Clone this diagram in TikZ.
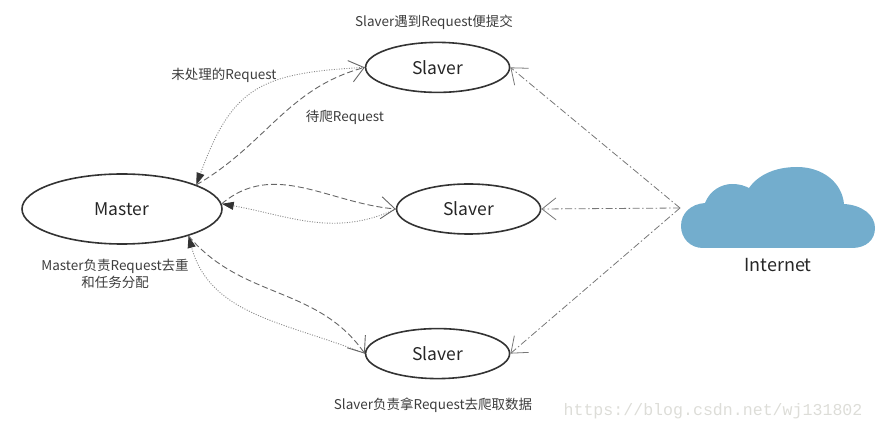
\documentclass[tikz,border=0pt]{standalone}
\usepackage{fontspec}
\setmainfont{Noto Sans CJK SC}
\newfontfamily\urlfont{Liberation Mono}
\usepackage{xcolor}
\usetikzlibrary{shapes,arrows.meta,positioning}
\definecolor{ringgray}{HTML}{333333}
\definecolor{dashgray}{HTML}{666666}
\definecolor{dotgray}{HTML}{8A8A8A}
\definecolor{netgray}{HTML}{777777}
\definecolor{textgray}{HTML}{3C3C3C}
\definecolor{cloudblue}{RGB}{115,173,205}
\definecolor{markgray}{HTML}{DDDDD8}
\tikzset{main node/.style={ellipse,draw=ringgray,line width=1.6pt,inner sep=0pt,
              font=\fontsize{17.5}{20}\selectfont,text=black!85},
         slave node/.style={main node,minimum width=144pt,minimum height=50pt},
         note/.style={font=\fontsize{13.5}{17}\selectfont,text=textgray,inner sep=0pt,align=center},
         fill tip/.style={-{Triangle[length=12pt,width=8pt,color=ringgray]}},
         open tip/.style={-{Straight Barb[length=14pt,width=22pt]}},
         dash line/.style={draw=dashgray,line width=0.9pt,dash pattern=on 6pt off 3pt,open tip},
         dot line/.style={draw=dotgray,line width=0.9pt,dash pattern=on 1pt off 1.5pt,fill tip},
         net line/.style={draw=netgray,line width=0.8pt,dash pattern=on 7pt off 2.5pt on 1.5pt off 2.5pt,open tip},
            }

\begin{document}
\begin{tikzpicture}[x=1pt,y=1pt]
    \useasboundingbox (0,0) rectangle (876,431);

    \node[main node,minimum width=200pt,minimum height=70pt] (m) at (122,222) {Master};
    \node[slave node] (s2) [right = 173pt of m] {Slaver};
    \node[slave node] (s1) [above = 90pt of s2, xshift=-31pt] {Slaver};
    \node[slave node] (s3) [below = 93pt of s2, xshift=-31pt] {Slaver};

    % cloud
    \begin{scope}[yshift=431pt,yscale=-1]
    \fill[cloudblue] (703,248)
        .. controls (690,248) and (681,238) .. (681,226)
        .. controls (681,213) and (691,204) .. (705,203)
        .. controls (710,190) and (722,184) .. (732,184)
        .. controls (740,184) and (745,186) .. (749,188)
        .. controls (758,175) and (775,167) .. (797,167)
        .. controls (822,167) and (842,182) .. (844,204)
        .. controls (862,205) and (875,215) .. (875,228)
        .. controls (875,240) and (866,248) .. (852,248) -- cycle;
    \end{scope}
    \coordinate (net) at (680,223);
    \node[font=\fontsize{18}{20}\selectfont,text=black!85] (inet) at (778,166) {Internet};

    % labels
    \node[note] (t1) at (434,409) {Slaver遇到Request便提交};
    \node[note] (t2) at (224,356) {未处理的Request};
    \node[note] (t3) at (345,314) {待爬Request};
    \node[note] (t4) at (115,157) {Master负责Request去重\\和任务分配};
    \node[note] (t5) at (433,26) {Slaver负责拿Request去爬取数据};
    \node[font=\urlfont\fontsize{16.6}{18}\selectfont,text=markgray,inner sep=0pt] (url) at (713,20) {https://blog.csdn.net/wj131802};

    \draw[dot line]  (s1.west) to[out=183,in=70,looseness=1.3] (m.18);
    \draw[dash line] (m.18) to[out=30,in=195] (s1.west);
    \draw[dot line]  (s2.west) to[out=205,in=-10] (m.3);
    \draw[dash line] (m.3) to[out=40,in=175] (s2.west);
    \draw[dot line]  (s3.west) to[out=158,in=-75] (m.-22);
    \draw[dash line] (m.-22) to[out=-50,in=125] (s3.west);

    \draw[net line] (net) -- (s1.east);
    \draw[net line] (net) -- (s2.east);
    \draw[net line] (net) -- (s3.east);

\end{tikzpicture}
\end{document}
